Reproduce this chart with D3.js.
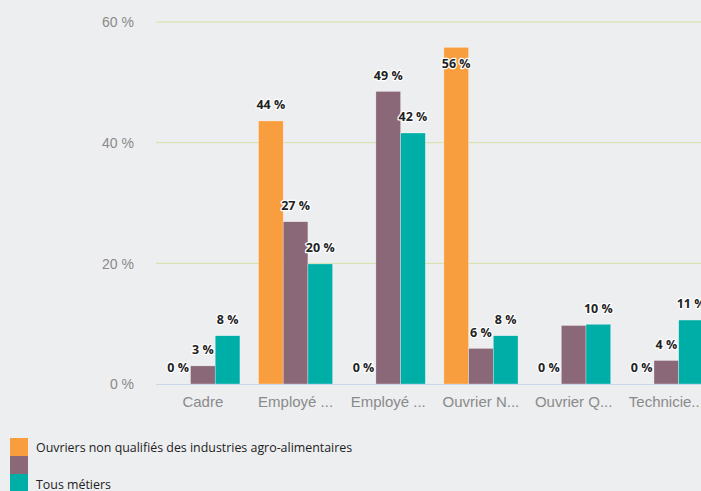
<!DOCTYPE html>
<html>
<head>
<meta charset="utf-8">
<script src="https://cdn.jsdelivr.net/npm/d3@7"></script>
<style>
  body { margin: 0; background: #edeef0; }
  svg { display: block; font-family: "Open Sans", sans-serif; }
</style>
</head>
<body>
<div id="chart"></div>
<script>
// données
const categories = ["Cadre", "Employé ...", "Employé ...", "Ouvrier N...", "Ouvrier Q...", "Technicie..."];
const seriesNames = ["Ouvriers non qualifiés des industries agro-alimentaires", "", "Tous métiers"];
const ouvriersAgro = [0, 43.6, 0, 55.8, 0, 0];
const serie2 = [3.0, 26.9, 48.5, 5.9, 9.7, 3.9];
const tousMetiers = [8.0, 19.9, 41.6, 8.0, 9.9, 10.6];
const yTicks = [0, 20, 40, 60];

const colors = ["#f99e3e", "#8b6878", "#00aea8"];
const width = 701, height = 491;
const margin = { top: 22, left: 156.5, bottom: 107 };
const step = 92.7;

const svg = d3.select("#chart").append("svg")
  .attr("width", width)
  .attr("height", height);

const x = d3.scaleBand()
  .domain(d3.range(categories.length))
  .range([margin.left, margin.left + step * categories.length])
  .paddingInner(0.2).paddingOuter(0.1);

const xs = d3.scaleBand().domain([0, 1, 2]).range([0, x.bandwidth()]);

const y = d3.scaleLinear().domain([0, 60]).range([height - margin.bottom, margin.top]);

// grille
svg.append("g").selectAll("line")
  .data(yTicks.filter(d => d > 0))
  .enter().append("line")
  .attr("x1", 156).attr("x2", width)
  .attr("y1", d => y(d)).attr("y2", d => y(d))
  .attr("stroke", "#d3e0a6").attr("stroke-width", 1);

// axe Y
const yAxis = svg.append("g")
  .attr("transform", "translate(138,0)")
  .call(d3.axisLeft(y).tickValues(yTicks).tickSize(0).tickFormat(d => d + " %"));
yAxis.select(".domain").remove();
yAxis.selectAll("text").attr("fill", "#8a8a8a").attr("font-size", 14).attr("x", -4).attr("dy", "0.35em");

const series = [ouvriersAgro, serie2, tousMetiers];
const bars = [];
series.forEach((vals, s) => {
  vals.forEach((v, i) => bars.push({ s, i, v }));
});

svg.append("g").selectAll("rect")
  .data(bars)
  .enter().append("rect")
  .attr("x", d => x(d.i) + xs(d.s))
  .attr("y", d => y(d.v))
  .attr("width", xs.bandwidth())
  .attr("height", d => y(0) - y(d.v))
  .attr("fill", d => colors[d.s])
  .attr("stroke", "#fff").attr("stroke-width", 0.5).attr("stroke-opacity", 0.6);

// axe X
const xAxis = svg.append("g")
  .attr("transform", "translate(0," + y(0) + ")")
  .call(d3.axisBottom(x).tickSize(0).tickFormat(i => categories[i]));
xAxis.select(".domain").attr("stroke", "#ccd6eb").attr("d", "M156,0.5H" + width);
xAxis.selectAll("text").attr("fill", "#8a8a8a").attr("font-size", 15).attr("dy", "1.3em");

// étiquettes de valeurs
const labels = bars.map(d => {
  const cx = x(d.i) + xs(d.s) + xs.bandwidth() / 2;
  let cy = y(d.v) - 16;
  if (cy < 50) cy = y(d.v) + 16;
  return { ...d, cx, cy, w: 30, h: 10, show: true };
});
// masquer les étiquettes qui se chevauchent
labels.forEach(a => labels.forEach(b => {
  if (a === b || !a.show || !b.show) return;
  if (Math.abs(a.cx - b.cx) < (a.w + b.w) / 2 && Math.abs(a.cy - b.cy) < (a.h + b.h) / 2) {
    if (a.v < b.v) a.show = false;
  }
}));

svg.append("g").selectAll("text")
  .data(labels.filter(d => d.show))
  .enter().append("text")
  .attr("x", d => d.cx)
  .attr("y", d => d.cy)
  .attr("dy", "0.35em")
  .attr("text-anchor", "middle")
  .attr("font-size", 12.5).attr("font-weight", "bold")
  .attr("fill", "#222")
  .attr("stroke", "#fff").attr("stroke-width", 2.5).attr("stroke-linejoin", "round")
  .attr("paint-order", "stroke")
  .text(d => Math.round(d.v) + " %");

// légende
const legend = svg.append("g").selectAll("g")
  .data(seriesNames)
  .enter().append("g")
  .attr("transform", (d, i) => "translate(10," + (438 + i * 18) + ")");
legend.append("rect")
  .attr("width", 18).attr("height", 18)
  .attr("fill", (d, i) => colors[i]);
legend.append("text")
  .attr("x", 26).attr("y", (d, i) => i === 2 ? 11 : 10)
  .attr("dy", "0.35em")
  .attr("font-size", 12.4).attr("fill", "#222")
  .text(d => d);
</script>
</body>
</html>
